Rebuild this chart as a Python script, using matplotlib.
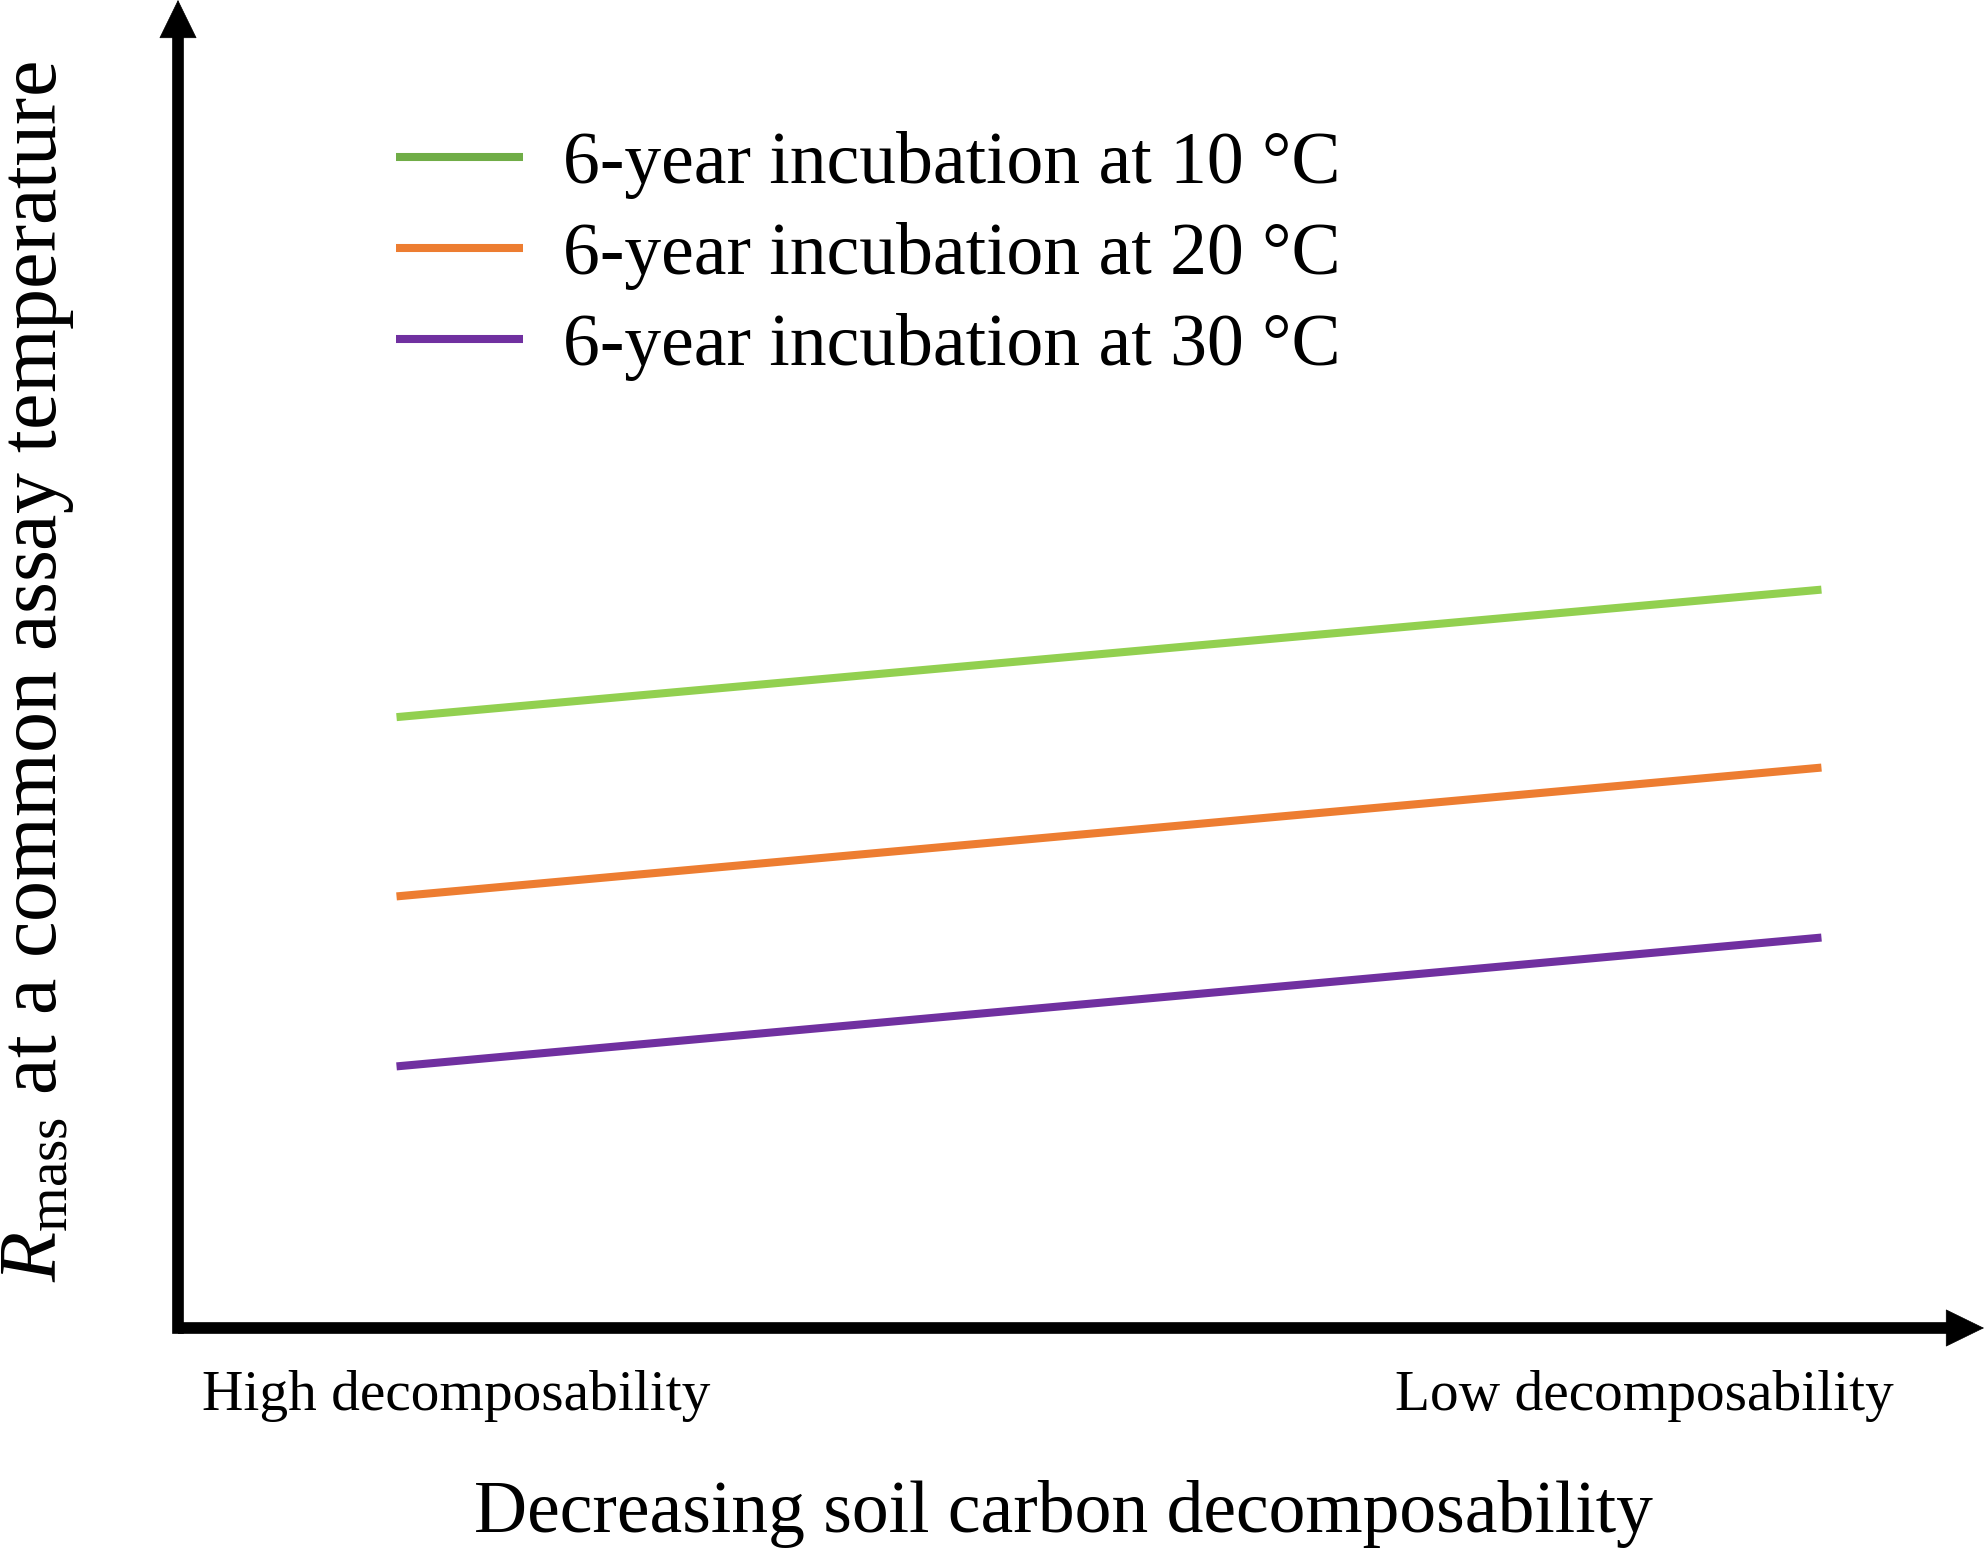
import matplotlib
matplotlib.use("Agg")
import matplotlib.pyplot as plt
from matplotlib.lines import Line2D

# ---- data (schematic values) ----
x_positions = [1.21, 9.10]
series_labels = ["6-year incubation at 10 °C",
                 "6-year incubation at 20 °C",
                 "6-year incubation at 30 °C"]
y_10C = [4.60, 5.56]
y_20C = [3.25, 4.22]
y_30C = [1.97, 2.94]
line_colors = ["#92D050", "#ED7D31", "#7030A0"]
legend_colors = ["#70AD47", "#ED7D31", "#7030A0"]
tick_labels = ["High decomposability", "Low decomposability"]

plt.rcParams['font.family'] = ['Liberation Serif', 'DejaVu Serif']
plt.rcParams['mathtext.fontset'] = 'custom'
plt.rcParams['mathtext.rm'] = 'Liberation Serif'
plt.rcParams['mathtext.it'] = 'Liberation Serif:italic'

W, H = 1984, 1551
fig = plt.figure(figsize=(W / 100, H / 100), dpi=100)
x0, y0 = 178, 1328  # axis corner in pixels
ax = fig.add_axes([x0 / W, (H - y0) / H, (W - x0) / W, y0 / H])
ax.set_xlim(0, 10)
ax.set_ylim(0, 10)
for s in ax.spines.values():
    s.set_visible(False)
ax.set_xticks([])
ax.set_yticks([])
ax.patch.set_alpha(0)

for ys, c in zip([y_10C, y_20C, y_30C], line_colors):
    ax.plot(x_positions, ys, color=c, lw=5.8, solid_capstyle='butt')

# axes shafts
shaft_lw = 8.4
ax.plot([0, 0], [0, 0.975], transform=ax.transAxes, color='black', lw=shaft_lw,
        solid_capstyle='projecting', clip_on=False)
ax.plot([0, 0.985], [0, 0], transform=ax.transAxes, color='black', lw=shaft_lw,
        solid_capstyle='butt', clip_on=False)
ax.plot([0, 0.0], [0, 0], transform=ax.transAxes, color='black', lw=shaft_lw,
        solid_capstyle='projecting', clip_on=False)
# arrow heads
head_kw = dict(arrowstyle='-|>,head_length=2.66,head_width=1.3', mutation_scale=10,
               lw=0.5, color='black', shrinkA=0, shrinkB=0)
ax.annotate('', xy=(0, 1), xytext=(0, 0.95), xycoords='axes fraction',
            arrowprops=head_kw, annotation_clip=False)
ax.annotate('', xy=(1, 0), xytext=(0.95, 0), xycoords='axes fraction',
            arrowprops=head_kw, annotation_clip=False)

handles = [Line2D([], [], color=c, lw=5.8, solid_capstyle='butt') for c in legend_colors]
leg = ax.legend(handles, series_labels, loc='upper left',
                bbox_to_anchor=((396 - x0) / (W - x0), 1 - 131 / y0),
                fontsize=53, frameon=False, handlelength=1.73, handletextpad=0.54,
                labelspacing=0.31, borderaxespad=0, borderpad=0)

# tick-like category labels
fig.text(202 / W, 1 - 1396 / H, tick_labels[0], fontsize=41.3, ha='left', va='center')
fig.text(1894 / W, 1 - 1396 / H, tick_labels[1], fontsize=41.3, ha='right', va='center')

fig.text(1063 / W, 1 - 1514 / H, "Decreasing soil carbon decomposability",
         fontsize=53, ha='center', va='center')
fig.text(38 / W, 1 - 672 / H,
         r"$\mathit{R}_{\mathrm{mass}}$ at a common assay temperature",
         fontsize=59, ha='center', va='center', rotation=90)

fig.savefig("out.png", dpi=100, facecolor='white')
